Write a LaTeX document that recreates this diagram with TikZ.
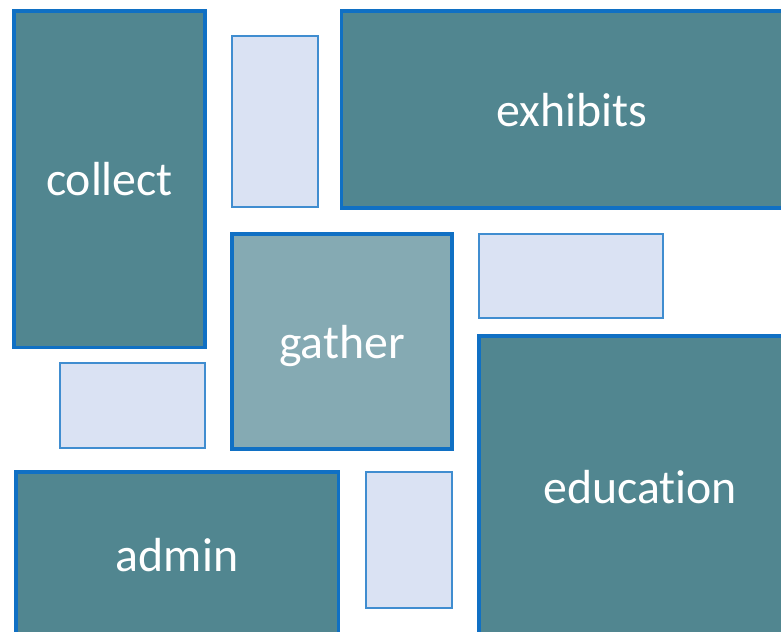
\documentclass[tikz,border=0pt]{standalone}
\usepackage{fontspec}
\setmainfont{Carlito}[Ligatures=NoCommon]
\usepackage{xcolor}
\definecolor{Teal}{HTML}{518690}
\definecolor{TealLight}{HTML}{85AAB3}
\definecolor{Slot}{HTML}{DAE2F3}
\definecolor{Edge}{HTML}{1070C4}

\begin{document}
\begin{tikzpicture}[x=0.025cm,y=-0.025cm,
  area/.style={rectangle,fill=Teal,draw=Edge,line width=2.2pt,inner sep=0pt,text depth=0pt,text=white,font=\fontsize{34}{40}\selectfont},
  hub/.style={area,fill=TealLight},
  slot/.style={rectangle,fill=Slot,draw=Edge!80,line width=0.9pt,inner sep=0pt}]
\useasboundingbox (0,0) rectangle (781,631);
\node[area,minimum width=4.775cm,minimum height=8.4cm] (collect) at (109.5,179) {collect};
\node[slot,minimum width=2.15cm,minimum height=4.275cm] (slotA) at (275,121.5) {};
\node[area,minimum width=11.5cm,minimum height=4.925cm] (exhibits) at (572,109.5) {exhibits};
\node[hub,minimum width=5.5cm,minimum height=5.375cm] (gather) at (342,341.5) {gather};
\node[slot,minimum width=4.6cm,minimum height=2.1cm] (slotB) at (571,276) {};
\node[slot,minimum width=3.625cm,minimum height=2.125cm] (slotC) at (132.5,405.5) {};
\node[area,minimum width=8.05cm,minimum height=7.55cm] (education) at (640,487) {education};
\node[area,minimum width=8.05cm,minimum height=4.15cm] (admin) at (177,555) {admin};
\node[slot,minimum width=2.15cm,minimum height=3.4cm] (slotD) at (409,540) {};
\end{tikzpicture}
\end{document}
